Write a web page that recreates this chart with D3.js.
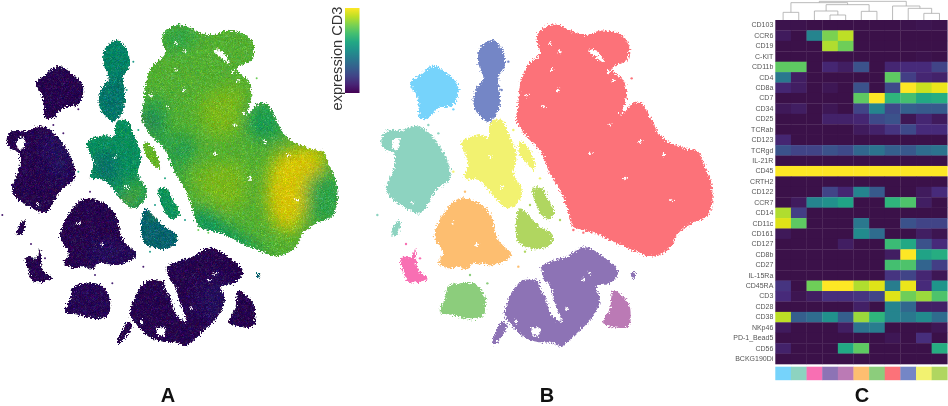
<!DOCTYPE html>
<html>
<head>
<meta charset="utf-8">
<script src="https://cdn.jsdelivr.net/npm/d3@7"></script>
<style>
  html, body { margin: 0; background: #fff; }
  svg { display: block; filter: blur(.35px); }
  text { font-family: "Liberation Sans", Arial, sans-serif; }
</style>
</head>
<body>
<svg id="chart" width="948" height="406"></svg>
<script>
// heatmap: markers (rows), clusters (columns), scaled expression 0-1
const markers = ["CD103","CCR6","CD19","C-KIT","CD11b","CD4","CD8a","CD7","CD34","CD25","TCRab","CD123","TCRgd","IL-21R","CD45","CRTH2","CD122","CCR7","CD14","CD11c","CD161","CD127","CD8b","CD27","IL-15Ra","CD45RA","CD3","CD28","CD38","NKp46","PD-1_Bead5","CD56","BCKG190Di"];
const clusterColors = ["#76d3fb","#8dd3c0","#f86fb3","#8d73b5","#bb7ab5","#fdbe70","#8ccd7c","#fc7279","#7486c6","#f2f270","#b0d660"];
const expression = [
  [.01,.01,0,0,0,0,0,0,.01,.02,.01],
  [.05,0,.45,.8,.9,0,0,0,0,0,0],
  [0,0,0,.88,.78,0,0,0,0,0,0],
  [0,0,0,0,0,0,0,0,0,.01,0],
  [.75,.75,0,.1,.06,.25,0,.1,.12,.12,.2],
  [.4,.06,0,0,0,0,0,.75,.18,.1,.08],
  [.1,.06,0,.03,0,.25,0,.22,1,.92,.97],
  [0,0,0,0,0,.75,1,.65,.7,.6,.62],
  [.04,.06,0,.03,0,.2,.45,.22,.3,.28,.28],
  [0,0,0,.08,.08,.1,.22,.25,.03,.1,.05],
  [0,0,0,0,0,.05,.08,.15,.22,.12,.12],
  [.1,0,0,0,0,0,0,0,0,0,0],
  [.25,.2,.2,.25,.22,.33,.38,.3,.27,.35,.38],
  [0,0,0,0,0,0,0,0,0,0,0],
  [1,1,1,1,1,1,1,1,1,1,1],
  [0,0,0,0,0,0,0,0,0,0,0],
  [0,0,0,.2,.1,.45,.28,0,0,.05,.12],
  [0,.05,.45,.5,.58,0,0,.65,.72,.06,0],
  [.88,.18,0,0,0,0,0,0,0,0,0],
  [.95,.75,0,0,0,.4,0,0,.25,.2,.2],
  [.04,0,0,0,0,.48,.35,0,0,.06,.02],
  [0,0,0,0,.06,0,0,.68,.6,.25,.12],
  [0,0,0,0,0,0,0,.06,1,.58,.62],
  [0,0,0,0,0,0,0,.7,.72,.32,.18],
  [0,0,0,0,0,0,0,.15,.2,.1,.03],
  [.15,0,.78,1,1,.88,.95,.42,.97,.12,.52],
  [.12,.02,.06,.13,.13,.15,.2,.95,.78,.85,.72],
  [0,0,0,0,0,.07,0,.45,.33,.07,.07],
  [.9,.3,.35,.5,.3,.85,.65,.45,.4,.48,.35],
  [.05,0,0,0,.06,.38,.42,0,0,0,.03],
  [0,0,0,0,0,0,0,.03,0,.13,0],
  [.08,0,0,0,.6,.75,0,0,0,0,.62],
  [0,0,0,0,0,0,0,0,0,0,0]
];

// dendrogram merges: [left, right, height]. 0-10 are leaves, 11+ are earlier merges
const merges = [
  [0,1,23],[3,4,15],[2,12,27],[5,6,26],[13,14,46],[11,15,52],
  [9,10,20],[8,17,35],[7,18,42],[16,19,56]
];

// tSNE embedding, outlines of the point clouds
const redOutline = [[505,100],[540,75],[575,78],[610,95],[650,105],[690,92],[745,100],[775,130],[772,180],[748,192],[725,205],[740,225],[760,240],[770,290],[755,345],[790,310],[815,310],[840,350],[870,405],[905,430],[945,445],[985,455],[1005,500],[1022,540],[1027,610],[1010,650],[965,670],[925,700],[900,745],[845,770],[800,755],[750,735],[690,705],[640,690],[610,680],[590,620],[570,570],[535,510],[510,450],[470,410],[440,360],[445,310],[450,255],[470,200],[510,160],[500,120]];
const lightBlueOutline = [[120,250],[150,225],[190,197],[225,215],[265,260],[250,315],[205,325],[175,355],[150,355],[145,310],[140,285]];
const blueOutline = [[330,145],[365,120],[395,145],[405,195],[385,235],[390,280],[385,330],[355,365],[320,335],[310,305],[320,265],[340,235],[325,190]];
const yellowOutline = [[275,425],[330,405],[355,410],[365,365],[395,360],[415,400],[440,470],[430,520],[455,570],[450,600],[415,625],[385,605],[360,575],[325,540],[285,535],[295,490],[280,450]];
const yellowSliver = [[450,425],[480,450],[495,510],[470,490],[445,450]];
const tealOutline = [[35,410],[60,390],[95,392],[130,378],[160,385],[200,425],[230,475],[240,535],[200,570],[150,640],[110,625],[60,590],[50,560],[70,510],[72,460],[42,445]];
const tealTail = [[75,670],[92,660],[80,705],[65,705]];
const orangeOutline = [[200,680],[225,635],[265,597],[320,605],[360,640],[385,720],[425,765],[370,795],[310,790],[290,810],[265,800],[235,805],[205,790],[220,760],[195,715]];
const pinkOutline = [[92,773],[125,770],[135,745],[145,810],[175,835],[150,845],[115,845],[100,815]];
const greenOutline = [[235,860],[270,850],[320,855],[345,895],[340,945],[300,958],[250,945],[210,935],[225,895]];
const limeUpper = [[488,565],[515,565],[535,600],[555,640],[535,658],[510,640],[495,600]];
const limeLower = [[450,625],[480,650],[510,680],[548,705],[540,735],[500,748],[445,725],[440,650]];
const violetOutline = [[515,800],[590,770],[645,742],[700,770],[745,815],[720,850],[680,860],[690,900],[665,955],[620,1000],[570,1040],[550,1030],[500,1025],[460,1010],[420,970],[405,950],[405,930],[430,870],[460,840],[520,840]];
const violetTail = [[398,965],[412,975],[374,1032],[366,1030]];
const orchidOutline = [[730,870],[775,910],[782,945],[775,980],[700,970],[720,925]];
const violetIsland = [[785,820],[797,820],[790,838]];

// white gaps between dense areas
const gapOutlines = [
  [[655,150],[678,152],[705,190],[685,178]],
  [[510,835],[535,850],[555,910],[575,965],[545,945],[525,890],[510,865]],
  [[695,870],[712,862],[708,910],[695,900]],
  [[485,985],[510,985],[505,1008],[490,1005]],
  [[65,425],[85,412],[88,440],[72,450]]
];
const gapPoints = [[470,285],[545,210],[765,535],[540,130],[565,270],[520,320],[720,375],[810,425],[905,600],[660,460],[880,465],[570,155],[745,340],[250,670],[320,735],[130,610],[395,560],[360,470],[640,840],[590,925],[440,965],[660,820],[715,215],[730,240]];

// stray points around the clouds: [x, y, cluster index]
const strayPoints = [[150,318,0],[250,328,0],[205,400,1],[175,375,1],[22,645,1],[108,732,2],[150,775,2],[250,515,9],[285,575,5],[300,825,6],[352,850,6],[445,800,5],[465,755,10],[570,660,10],[785,235,7],[610,690,7],[640,698,7],[395,270,8],[415,185,8],[430,390,9],[510,535,9],[480,615,10]];
const strayExpression = [.08,.08,.08,.45,.08,.08,.1,.78,.54,.6,.55];

// expression CD3 zones inside each cloud for panel A
const redZones = [
  {v:.7, p:[[440,310],[500,300],[520,440],[570,570],[520,520],[470,410]]},
  {v:.32, p:[[445,345],[470,350],[475,390],[450,375]]},
  {v:.85, p:[[600,520],[735,490],[740,620],[650,610]]},
  {v:.85, p:[[620,300],[740,260],[720,400],[640,400]]},
  {v:.99, p:[[845,470],[985,445],[985,490],[925,640],[885,700],[825,640]]},
  {v:.72, p:[[940,540],[1030,520],[1030,650],[955,670]]},
  {v:.68, p:[[760,330],[820,310],[860,410],[770,410]]},
  {v:.66, p:[[600,620],[700,680],[820,770],[600,700]]},
  {v:.72, p:[[520,90],[600,90],[590,130],[510,150]]},
  {v:.68, p:[[540,400],[600,440],[560,500]]}
];
const blueZones = [{v:.52, p:[[310,240],[400,240],[390,360],[310,340]]}];
const yellowZones = [
  {v:.45, p:[[300,470],[350,470],[360,530],[320,530]]},
  {v:.76, p:[[420,530],[460,560],[450,610],[400,590]]},
  {v:.98, p:[[365,585],[385,595],[415,622],[395,625]]}
];
const limeZones = [{v:.85, p:[[470,630],[555,640],[540,660],[490,650]]}];
const tealZones = [{v:.14, p:[[160,390],[235,480],[200,560],[140,480]]}];
const orangeZones = [{v:.14, p:[[300,720],[420,750],[370,795],[290,790]]}];
const violetZones = [{v:.14, p:[[640,830],[700,840],[670,950],[600,950]]}];

const cloudsA = [
  {outline: redOutline, v: .79, zones: redZones},
  {outline: lightBlueOutline, v: .08},
  {outline: blueOutline, v: .58, zones: blueZones},
  {outline: yellowOutline, v: .63, zones: yellowZones},
  {outline: yellowSliver, v: .82},
  {outline: tealOutline, v: .08, zones: tealZones},
  {outline: tealTail, v: .08},
  {outline: orangeOutline, v: .08, zones: orangeZones},
  {outline: pinkOutline, v: .08},
  {outline: greenOutline, v: .1},
  {outline: limeUpper, v: .65},
  {outline: limeLower, v: .45, zones: limeZones},
  {outline: violetOutline, v: .08, zones: violetZones},
  {outline: violetTail, v: .08},
  {outline: orchidOutline, v: .08},
  {outline: violetIsland, v: .45}
];
const cloudsB = [
  {outline: redOutline, c: 7},
  {outline: lightBlueOutline, c: 0},
  {outline: blueOutline, c: 8},
  {outline: yellowOutline, c: 9},
  {outline: yellowSliver, c: 9},
  {outline: tealOutline, c: 1},
  {outline: tealTail, c: 1},
  {outline: orangeOutline, c: 5},
  {outline: pinkOutline, c: 2},
  {outline: greenOutline, c: 6},
  {outline: limeUpper, c: 10},
  {outline: limeLower, c: 10},
  {outline: violetOutline, c: 3},
  {outline: violetTail, c: 3},
  {outline: orchidOutline, c: 4},
  {outline: violetIsland, c: 3}
];
const panelLabels = [["A",168],["B",547],["C",862]];

const svg = d3.select("#chart");
const defs = svg.append("defs");
const viridis = d3.scaleSequential(d3.interpolateViridis).domain([0, 1]);
// the printed heatmap floor is a bit greyer than viridis purple
const floorMix = d3.interpolateRgb("#3b1149", viridis(.12));
const heatColor = (t) => (t < .12 ? floorMix(t / .12) : viridis(t));

// shared embedding scales, same domain drawn twice
const yEmbed = d3.scaleLinear().domain([0, 1218]).range([0, 406]);
const xA = d3.scaleLinear().domain([0, 1110]).range([-5, 365]);
const xB = d3.scaleLinear().domain([0, 1110]).range([370, 740]);

// grain and rough edges stand in for the individual points, they carry no values
function addFilter(id) {
  return defs.append("filter").attr("id", id)
    .attr("filterUnits", "userSpaceOnUse").attr("x", 0).attr("y", 0).attr("width", 948).attr("height", 406)
    .attr("color-interpolation-filters", "sRGB");
}
const rough = addFilter("rough");
rough.append("feTurbulence").attr("type", "fractalNoise").attr("baseFrequency", .55).attr("numOctaves", 2).attr("seed", 4).attr("result", "noise");
rough.append("feDisplacementMap").attr("in", "SourceGraphic").attr("in2", "noise").attr("scale", 7).attr("xChannelSelector", "R").attr("yChannelSelector", "G");

const grain = addFilter("grain");
grain.append("feTurbulence").attr("type", "fractalNoise").attr("baseFrequency", .6).attr("numOctaves", 1).attr("seed", 9).attr("result", "noise");
grain.append("feComposite").attr("in", "SourceGraphic").attr("in2", "noise").attr("operator", "arithmetic")
  .attr("k1", 0).attr("k2", 1).attr("k3", .7).attr("k4", -.32).attr("result", "speckled");
grain.append("feComposite").attr("in", "speckled").attr("in2", "SourceAlpha").attr("operator", "in").attr("result", "inside");
grain.append("feDisplacementMap").attr("in", "inside").attr("in2", "noise").attr("scale", 7).attr("xChannelSelector", "R").attr("yChannelSelector", "G");

defs.append("filter").attr("id", "soft").append("feGaussianBlur").attr("stdDeviation", 8);

function pathOf(x) {
  return d3.line().x((d) => x(d[0])).y((d) => yEmbed(d[1])).curve(d3.curveCatmullRomClosed.alpha(.5));
}

function drawGaps(x) {
  const g = svg.append("g").attr("filter", "url(#rough)");
  g.selectAll("path").data(gapOutlines).join("path")
    .attr("d", pathOf(x)).attr("fill", "#fff");
  g.selectAll("circle").data(gapPoints).join("circle")
    .attr("cx", (d) => x(d[0])).attr("cy", (d) => yEmbed(d[1])).attr("r", 1.6).attr("fill", "#fff");
}

// Panel A, clouds coloured by expression
const lineA = pathOf(xA);
const panelA = svg.append("g").attr("filter", "url(#grain)");
cloudsA.forEach((cloud, i) => {
  defs.append("clipPath").attr("id", "clip" + i).append("path").attr("d", lineA(cloud.outline));
  const g = panelA.append("g").attr("clip-path", `url(#clip${i})`);
  g.append("path").attr("d", lineA(cloud.outline)).attr("fill", viridis(cloud.v));
  g.append("g").attr("filter", "url(#soft)")
    .selectAll("path").data(cloud.zones || []).join("path")
    .attr("d", (d) => lineA(d.p)).attr("fill", (d) => viridis(d.v));
});
drawGaps(xA);
svg.append("g").selectAll("circle").data(strayPoints).join("circle")
  .attr("cx", (d) => xA(d[0])).attr("cy", (d) => yEmbed(d[1])).attr("r", 1)
  .attr("fill", (d) => viridis(strayExpression[d[2]]));

// colour bar for panel A
const grad = defs.append("linearGradient").attr("id", "bar").attr("x1", 0).attr("x2", 0).attr("y1", 1).attr("y2", 0);
grad.selectAll("stop").data(d3.range(0, 1.01, .1)).join("stop")
  .attr("offset", (d) => d).attr("stop-color", (d) => viridis(d));
svg.append("rect").attr("x", 345).attr("y", 8).attr("width", 14.5).attr("height", 85).attr("fill", "url(#bar)");
svg.append("text").attr("transform", "translate(342,58.5) rotate(-90)")
  .attr("text-anchor", "middle").attr("font-size", 14.6).attr("fill", "#333").text("expression CD3");

// Panel B, clouds coloured by cluster
const lineB = pathOf(xB);
svg.append("g").attr("filter", "url(#rough)")
  .selectAll("path").data(cloudsB).join("path")
  .attr("d", (d) => lineB(d.outline)).attr("fill", (d) => clusterColors[d.c]);
drawGaps(xB);
svg.append("g").selectAll("circle").data(strayPoints).join("circle")
  .attr("cx", (d) => xB(d[0])).attr("cy", (d) => yEmbed(d[1])).attr("r", 1.2)
  .attr("fill", (d) => clusterColors[d[2]]);

// Panel C, heatmap
const columns = d3.range(clusterColors.length);
const xHeat = d3.scaleBand().domain(columns).range([775.3, 947.3]);
const yHeat = d3.scaleBand().domain(markers).range([20, 364]);

svg.append("g").selectAll("g").data(expression).join("g")
  .attr("transform", (d, i) => `translate(0,${yHeat(markers[i])})`)
  .selectAll("rect").data((d) => d).join("rect")
  .attr("x", (d, j) => xHeat(j)).attr("width", xHeat.bandwidth() + .3)
  .attr("height", yHeat.bandwidth() + .3)
  .attr("fill", (d) => heatColor(d));

svg.append("g").selectAll("rect").data(columns).join("rect")
  .attr("x", (d) => xHeat(d)).attr("y", 366.7).attr("width", xHeat.bandwidth() + .3).attr("height", 13.5)
  .attr("fill", (d) => clusterColors[d]);

const yAxis = svg.append("g").attr("transform", "translate(775.3,0)")
  .call(d3.axisLeft(yHeat).tickSize(0).tickPadding(2));
yAxis.select(".domain").remove();
yAxis.selectAll("text").attr("font-size", 7).attr("font-family", "Liberation Sans").attr("fill", "#555");

// dendrogram, built up from the merge list
const yDendro = d3.scaleLinear().domain([0, 60]).range([20, 0]);
const nodes = columns.map((c) => ({ x: xHeat(c) + xHeat.bandwidth() / 2, h: 0 }));
const dendroG = svg.append("g");
merges.forEach(([a, b, h]) => {
  const l = nodes[a], r = nodes[b];
  dendroG.append("path")
    .attr("d", `M${l.x},${yDendro(l.h)}V${yDendro(h)}H${r.x}V${yDendro(r.h)}`)
    .attr("fill", "none").attr("stroke", "#aaa").attr("stroke-width", .8);
  nodes.push({ x: (l.x + r.x) / 2, h: h });
});

// panel letters
svg.append("g").selectAll("text").data(panelLabels).join("text")
  .attr("x", (d) => d[1]).attr("y", 401.5).attr("text-anchor", "middle")
  .attr("font-size", 20).attr("font-weight", "bold").attr("fill", "#111").text((d) => d[0]);
</script>
</body>
</html>
